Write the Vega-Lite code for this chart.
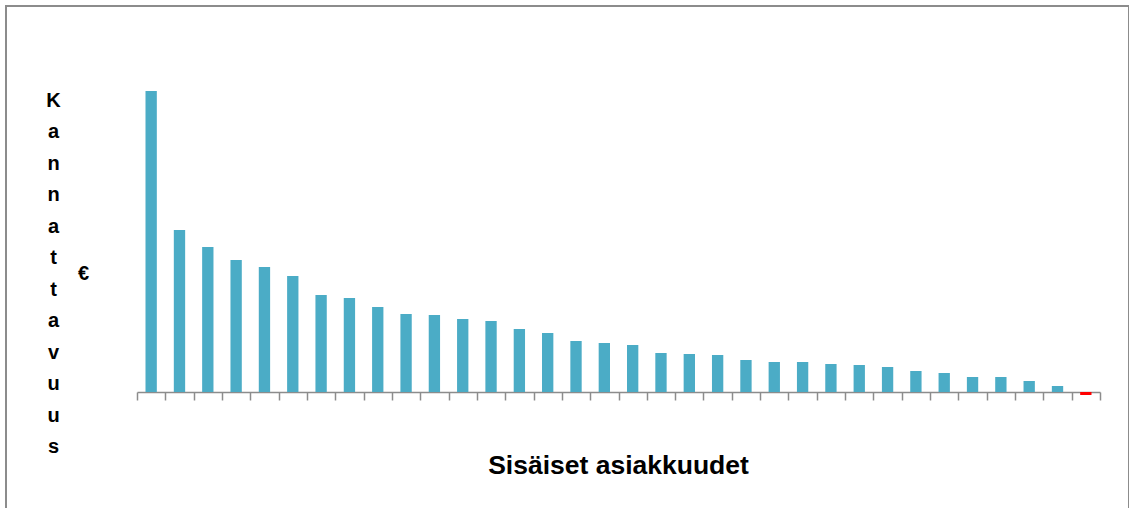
{
  "$schema": "https://vega.github.io/schema/vega-lite/v6.json",
  "autosize": "none",
  "width": 1123,
  "height": 503,
  "padding": {"left": 6, "top": 6, "right": 0, "bottom": 0},
  "background": "white",
  "title": {
    "text": "€",
    "anchor": "start",
    "frame": "group",
    "orient": "top",
    "offset": 0,
    "dx": 72,
    "dy": 294,
    "baseline": "alphabetic",
    "font": "Liberation Sans",
    "fontSize": 20,
    "fontWeight": "bold",
    "color": "#000000"
  },
  "data": {
    "values": [
      {"asiakkuus": "Asiakkuus 1", "kannattavuus": 301},
      {"asiakkuus": "Asiakkuus 2", "kannattavuus": 162},
      {"asiakkuus": "Asiakkuus 3", "kannattavuus": 145},
      {"asiakkuus": "Asiakkuus 4", "kannattavuus": 132},
      {"asiakkuus": "Asiakkuus 5", "kannattavuus": 125},
      {"asiakkuus": "Asiakkuus 6", "kannattavuus": 116},
      {"asiakkuus": "Asiakkuus 7", "kannattavuus": 97},
      {"asiakkuus": "Asiakkuus 8", "kannattavuus": 94},
      {"asiakkuus": "Asiakkuus 9", "kannattavuus": 85},
      {"asiakkuus": "Asiakkuus 10", "kannattavuus": 78},
      {"asiakkuus": "Asiakkuus 11", "kannattavuus": 77},
      {"asiakkuus": "Asiakkuus 12", "kannattavuus": 73},
      {"asiakkuus": "Asiakkuus 13", "kannattavuus": 71},
      {"asiakkuus": "Asiakkuus 14", "kannattavuus": 63},
      {"asiakkuus": "Asiakkuus 15", "kannattavuus": 59},
      {"asiakkuus": "Asiakkuus 16", "kannattavuus": 51},
      {"asiakkuus": "Asiakkuus 17", "kannattavuus": 49},
      {"asiakkuus": "Asiakkuus 18", "kannattavuus": 47},
      {"asiakkuus": "Asiakkuus 19", "kannattavuus": 39},
      {"asiakkuus": "Asiakkuus 20", "kannattavuus": 38},
      {"asiakkuus": "Asiakkuus 21", "kannattavuus": 37},
      {"asiakkuus": "Asiakkuus 22", "kannattavuus": 32},
      {"asiakkuus": "Asiakkuus 23", "kannattavuus": 30},
      {"asiakkuus": "Asiakkuus 24", "kannattavuus": 30},
      {"asiakkuus": "Asiakkuus 25", "kannattavuus": 28},
      {"asiakkuus": "Asiakkuus 26", "kannattavuus": 27},
      {"asiakkuus": "Asiakkuus 27", "kannattavuus": 25},
      {"asiakkuus": "Asiakkuus 28", "kannattavuus": 21},
      {"asiakkuus": "Asiakkuus 29", "kannattavuus": 19},
      {"asiakkuus": "Asiakkuus 30", "kannattavuus": 15},
      {"asiakkuus": "Asiakkuus 31", "kannattavuus": 15},
      {"asiakkuus": "Asiakkuus 32", "kannattavuus": 11},
      {"asiakkuus": "Asiakkuus 33", "kannattavuus": 6},
      {"asiakkuus": "Asiakkuus 34", "kannattavuus": -3}
    ]
  },
  "mark": {"type": "bar", "width": {"band": 0.4}},
  "encoding": {
    "x": {
      "field": "asiakkuus",
      "type": "nominal",
      "sort": null,
      "scale": {"range": [131, 1094], "paddingInner": 0, "paddingOuter": 0},
      "axis": {
        "orient": "bottom",
        "offset": -117,
        "labels": false,
        "grid": false,
        "tickBand": "extent",
        "tickSize": 8,
        "tickWidth": 1.5,
        "tickColor": "#8c8c8c",
        "domainColor": "#8c8c8c",
        "domainWidth": 1.5,
        "title": "Sisäiset asiakkuudet",
        "titleFont": "Liberation Sans",
        "titleFontSize": 26.5,
        "titleFontWeight": "bold",
        "titleColor": "#000000",
        "titleBaseline": "alphabetic",
        "titleAlign": "center",
        "titleX": 612,
        "titleY": 81
      }
    },
    "y": {
      "field": "kannattavuus",
      "type": "quantitative",
      "scale": {"domain": [-117, 386], "nice": false, "zero": false},
      "axis": {
        "domain": false,
        "ticks": false,
        "labels": false,
        "grid": false,
        "title": ["K", "a", "n", "n", "a", "t", "t", "a", "v", "u", "u", "s"],
        "titleAngle": 0,
        "titleAlign": "center",
        "titleBaseline": "alphabetic",
        "titleLineHeight": 31.5,
        "titleX": 47,
        "titleY": 100,
        "titleFont": "Liberation Sans",
        "titleFontSize": 20,
        "titleFontWeight": "bold",
        "titleColor": "#000000"
      }
    },
    "color": {
      "condition": {"test": "datum.kannattavuus < 0", "value": "#FF0000"},
      "value": "#4BACC6"
    }
  },
  "config": {
    "view": {"stroke": "#8c8c8c", "strokeWidth": 2}
  }
}
